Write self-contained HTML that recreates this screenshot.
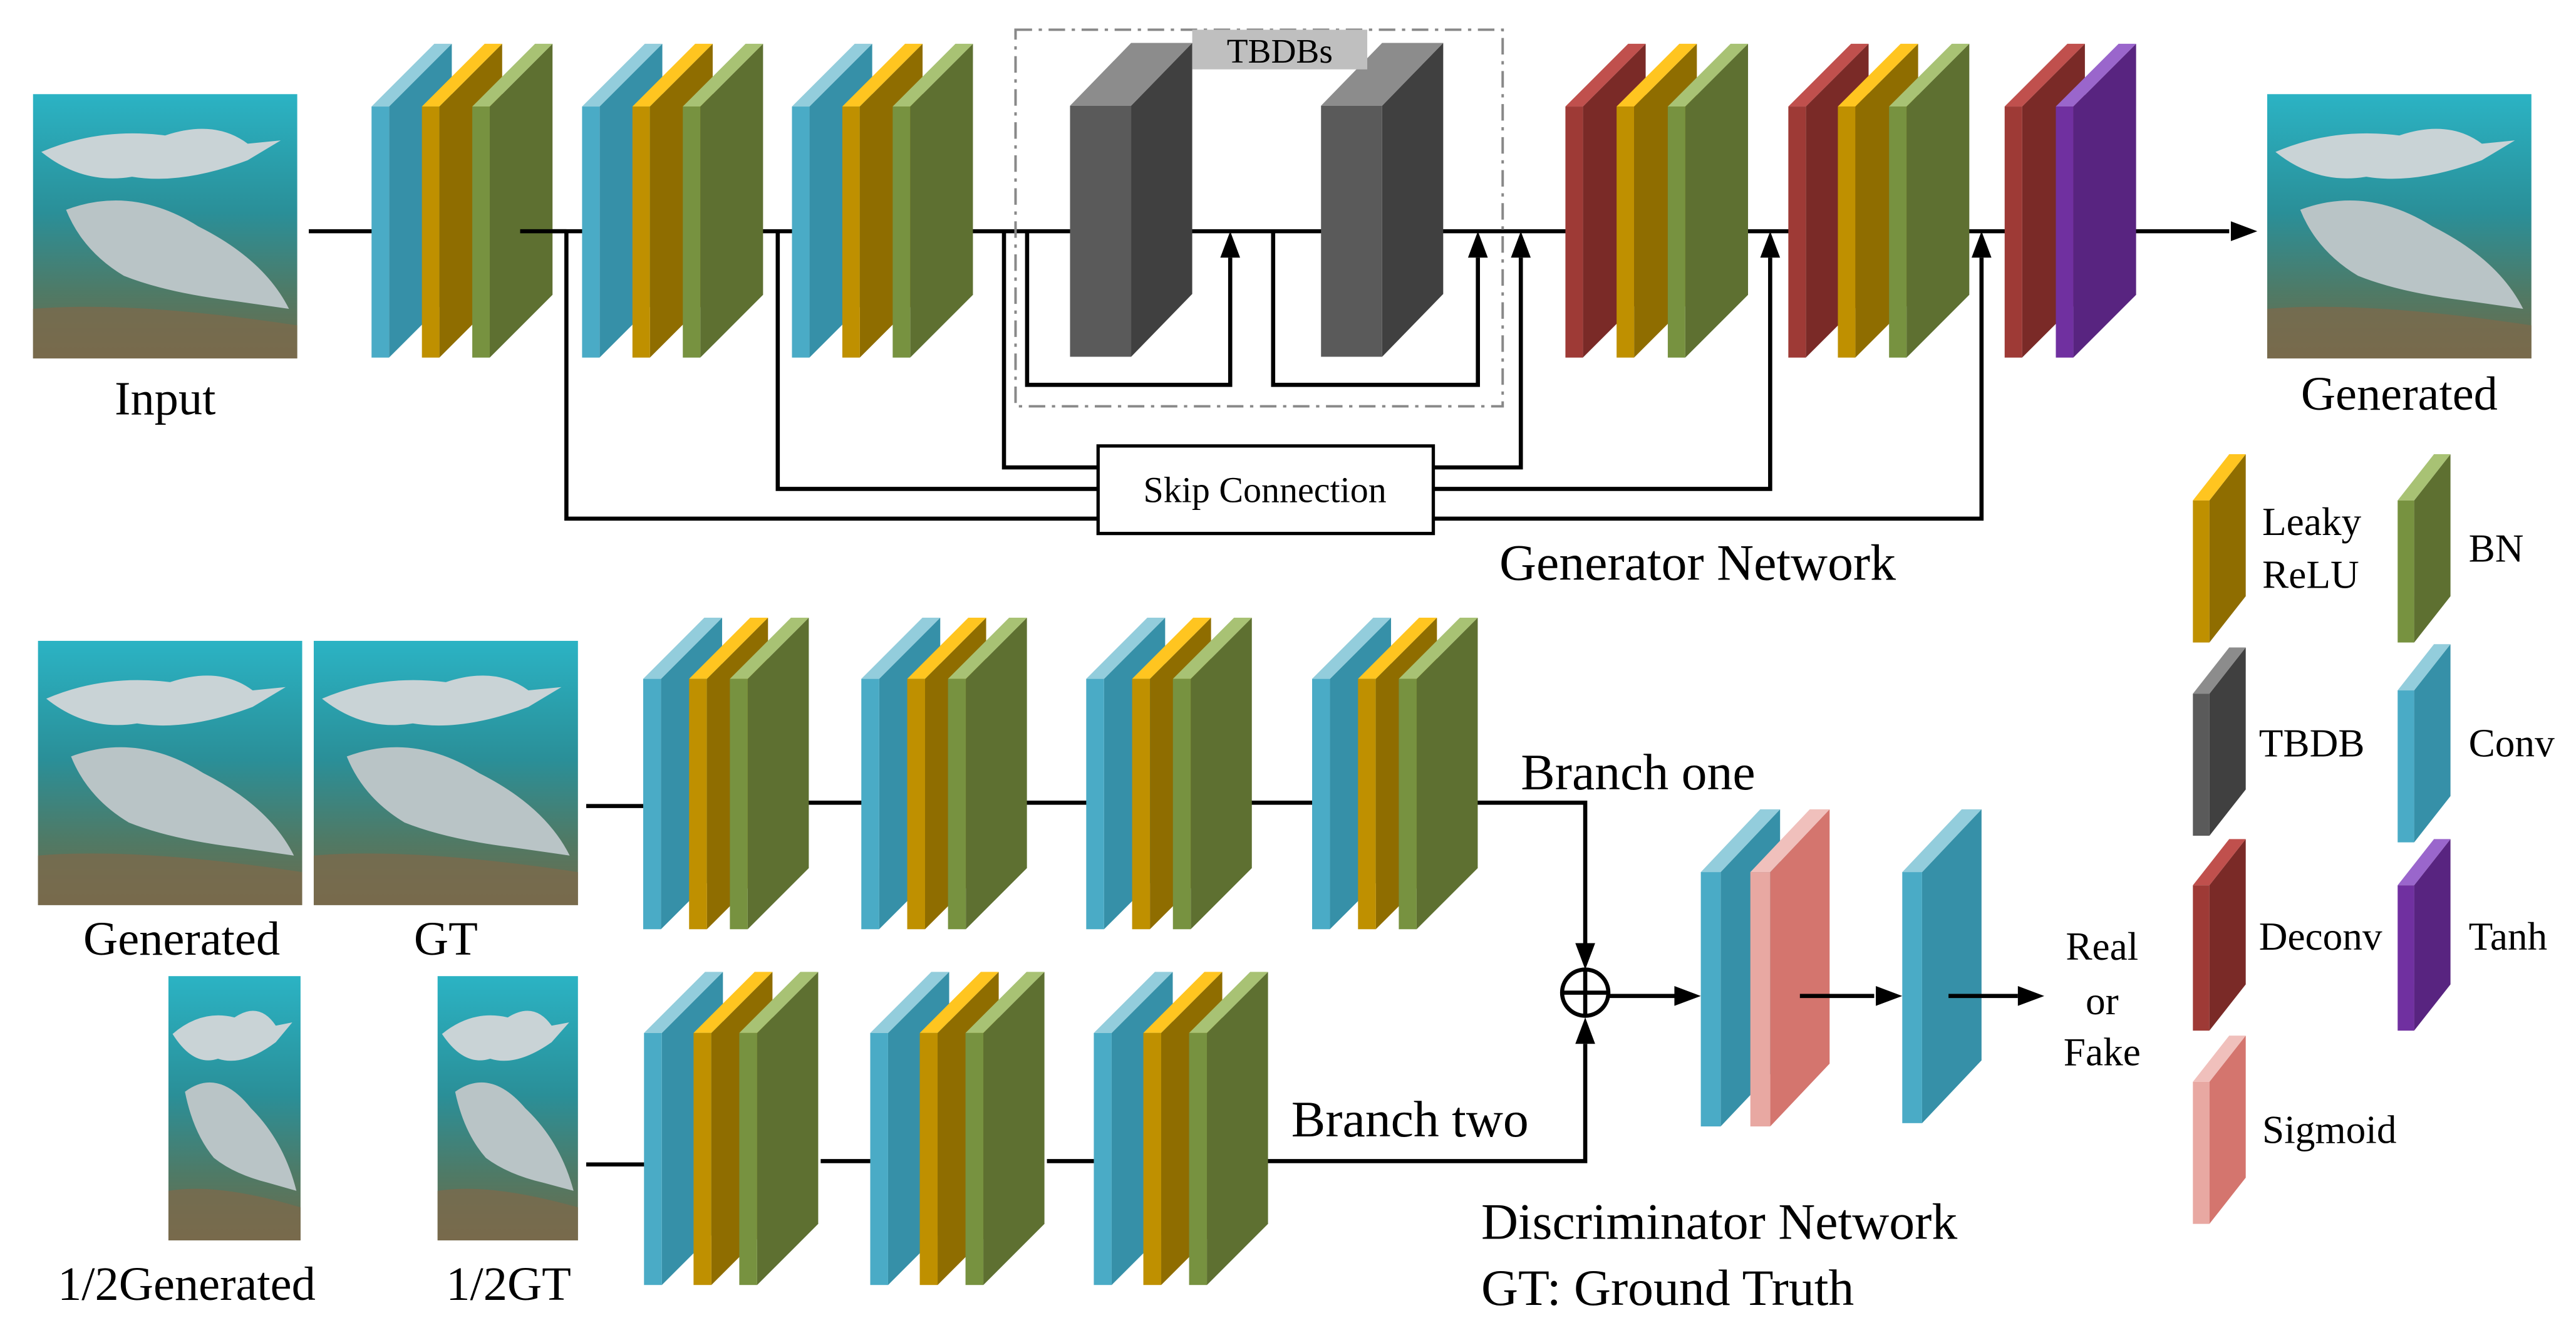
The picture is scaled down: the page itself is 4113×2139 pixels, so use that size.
<!DOCTYPE html>
<html><head><meta charset="utf-8"><style>
html,body{margin:0;padding:0;background:#fff;}
svg{display:block;}
svg text{font-family:"Liberation Serif","DejaVu Serif","Times New Roman",serif !important;fill:#000;}
</style></head><body>
<svg id="s" width="4113" height="2139" viewBox="0 0 1560 811.3" xmlns="http://www.w3.org/2000/svg">
<defs>
<linearGradient id="sea" x1="0" y1="0" x2="0" y2="1">
<stop offset="0" stop-color="#2bb3c4"/><stop offset="0.45" stop-color="#2a8f98"/><stop offset="0.75" stop-color="#4f7a66"/><stop offset="1" stop-color="#6f6a4a"/>
</linearGradient>
<g id="shark">
<rect x="0" y="0" width="160" height="160" fill="url(#sea)"/>
<path d="M5 35 Q40 20 80 25 Q110 15 130 30 L150 28 L130 40 Q90 55 60 50 Q30 55 5 35Z" fill="#c9d3d6"/>
<path d="M20 70 Q60 55 100 80 Q140 100 155 130 L120 125 Q80 120 55 110 Q30 95 20 70Z" fill="#b9c4c6"/>
<path d="M0 130 Q60 125 160 140 L160 160 L0 160Z" fill="#7a6a4c" opacity="0.8"/>
</g>
</defs>
<g id="g"></g>
</svg>
<script>
var NS="http://www.w3.org/2000/svg",G=document.getElementById("g");
function el(t,a,txt){var e=document.createElementNS(NS,t);for(var k in a)e.setAttribute(k,a[k]);if(txt!==undefined)e.textContent=txt;G.appendChild(e);return e;}
var C={b:["#4aabc6","#3690a8","#93cddc"],y:["#bf9000","#8f6d00","#ffc520"],g:["#779240","#5e7031","#a8c274"],
r:["#9e3a36","#7a2a27","#c0504d"],p:["#7030a0","#582480","#9a66cc"],k:["#5a5a5a","#404040","#8c8c8c"],s:["#e8a8a2","#d4756e","#f0c0bc"]};
function slab(x,top,bot,w,dx,dy,c){c=C[c];
el("polygon",{points:[x+w,top+dy,x+w+dx,top,x+w+dx,bot-dy,x+w,bot].join(" "),fill:c[1]});
el("polygon",{points:[x,top+dy,x+dx,top,x+w+dx,top,x+w,top+dy].join(" "),fill:c[2]});
el("rect",{x:x,y:top+dy,width:w,height:bot-top-dy,fill:c[0]});}
function line(pts,w){el("polyline",{points:pts.join(" "),fill:"none",stroke:"#000","stroke-width":w||2.5});}
function arrowUp(x,y){el("polygon",{points:[x,y,x-6,y+16,x+6,y+16].join(" "),fill:"#000"});}
function arrowR(x,y){el("polygon",{points:[x,y,x-16,y-6,x-16,y+6].join(" "),fill:"#000"});}
function img(x,y,w,h){el("use",{href:"#shark",transform:"translate("+x+","+y+") scale("+(w/160)+","+(h/160)+")"});}
function txt(x,y,s,size,anchor){el("text",{x:x,y:y,"font-size":size,"text-anchor":anchor||"start","font-family":"Liberation Serif, DejaVu Serif, serif"},s);}

img(20,57,160,160); txt(100,251,"Input",29,"middle");
img(1373,57,160,160); txt(1453,248,"Generated",29,"middle");
line([187,140,228,140]);line([315,140,355,140]);line([443,140,482,140]);line([570,140,650,140]);
line([700,140,802,140]);line([862,140,950,140]);line([1040,140,1085,140]);line([1172,140,1216,140]);
line([1272,140,1350,140]);arrowR(1367,140);
line([343,140,343,314,665,314]);line([471,140,471,296,665,296]);line([608,140,608,283,665,283]);
line([868,283,921,283,921,156]);arrowUp(921,140);
line([868,296,1072,296,1072,156]);arrowUp(1072,140);
line([868,314,1200,314,1200,156]);arrowUp(1200,140);
line([622,140,622,233,745,233,745,156]);arrowUp(745,140);
line([771,140,771,233,895,233,895,156]);arrowUp(895,140);
el("rect",{x:665,y:270,width:203,height:53,fill:"#fff",stroke:"#000","stroke-width":2});
txt(766,304,"Skip Connection",22,"middle");
el("rect",{x:615,y:18,width:295,height:228,fill:"none",stroke:"#888","stroke-width":1.5,"stroke-dasharray":"10 4 2 4"});
var gs=[225,352.5,479.6];
gs.forEach(function(x){slab(x,26.5,216.5,10.6,38,38,"b");slab(x+30.5,26.5,216.5,10.6,38,38,"y");slab(x+61,26.5,216.5,10.6,38,38,"g");});
slab(648,26,216,37,37,38,"k");slab(800,26,216,37,37,38,"k");
el("rect",{x:722,y:18,width:106,height:24,fill:"#bfbfbf"});txt(775,38,"TBDBs",21,"middle");
slab(948,26.5,216.5,10.6,38,38,"r");slab(979,26.5,216.5,10.6,38,38,"y");slab(1010,26.5,216.5,10.6,38,38,"g");
slab(1083,26.5,216.5,10.6,38,38,"r");slab(1113,26.5,216.5,10.6,38,38,"y");slab(1144,26.5,216.5,10.6,38,38,"g");
slab(1214,26.5,216.5,10.6,38,38,"r");slab(1245,26.5,216.5,10.6,38,38,"p");
line([315,140,343,140]);
txt(908,351,"Generator Network",31);

img(23,388,160,160);img(190,388,160,160);
txt(110,578,"Generated",29,"middle");txt(270,578,"GT",29,"middle");
img(102,591,80,160);img(265,591,85,160);
txt(113,787,"1/2Generated",29,"middle");txt(308,787,"1/2GT",29,"middle");
line([355,488,392,488]);line([476,486,525,486]);line([610,486,660,486]);line([748,486,798,486]);
line([887,486,960,486,960,572]);
el("polygon",{points:"960,587 954,571 966,571",fill:"#000"});
line([750,703,960,703,960,632]);
line([355,705,392,705]);line([497,703,530,703]);line([634,703,667,703]);
el("polygon",{points:"960,616 954,632 966,632",fill:"#000"});
el("circle",{cx:960,cy:601,r:14,fill:"none",stroke:"#000","stroke-width":2.5});
line([946,601,974,601]);line([960,587,960,615]);
line([974,603,1015,603]);arrowR(1030,603);
[389.5,521.6,657.8,794.6].forEach(function(x){slab(x,374,562.6,10.8,37,37,"b");slab(x+27.8,374,562.6,10.8,37,37,"y");slab(x+52.5,374,562.6,10.8,37,37,"g");});
[390,527,662.4].forEach(function(x){slab(x,588.4,778,10.8,37,37,"b");slab(x+30,588.4,778,10.8,37,37,"y");slab(x+57.7,588.4,778,10.8,37,37,"g");});
slab(1030,490,682,12,36,38,"b");slab(1060,490,682,12,36,38,"s");
line([1090,603,1135,603]);arrowR(1152,603);
slab(1152,490,680,12,36,38,"b");
line([1180,603,1222,603]);arrowR(1238,603);
txt(1273,581,"Real",24,"middle");txt(1273,614,"or",24,"middle");txt(1273,645,"Fake",24,"middle");
txt(921,478,"Branch one",31);txt(782,688,"Branch two",31);
txt(897,750,"Discriminator Network",31);txt(897,790,"GT: Ground Truth",31);

slab(1328,275,389,10,22,28,"y");txt(1370,324,"Leaky",24);txt(1370,356,"ReLU",24);
slab(1452,275,389,10,22,28,"g");txt(1495,340,"BN",24);
slab(1328,392,506,10,22,28,"k");txt(1368,458,"TBDB",24);
slab(1452,390,510,10,22,28,"b");txt(1495,458,"Conv",24);
slab(1328,508,624,10,22,28,"r");txt(1368,575,"Deconv",24);
slab(1452,508,624,10,22,28,"p");txt(1495,575,"Tanh",24);
slab(1328,627,741,10,22,28,"s");txt(1370,692,"Sigmoid",24);
</script>
</body></html>
